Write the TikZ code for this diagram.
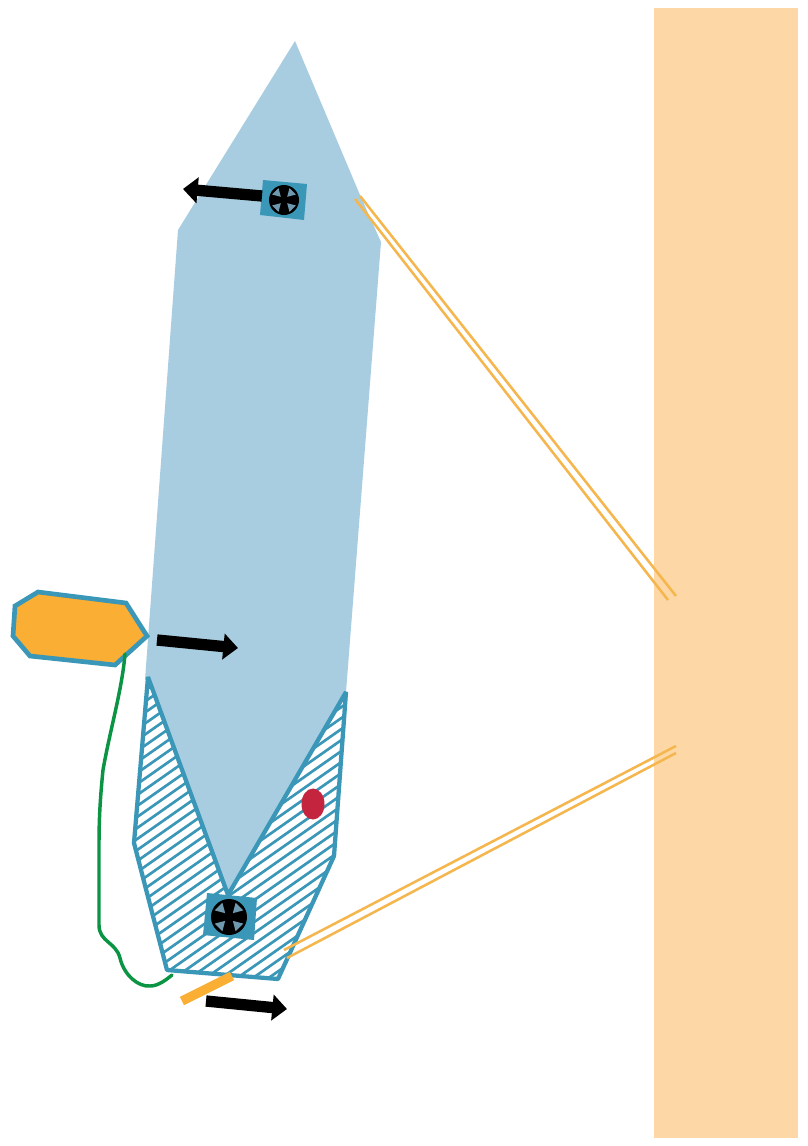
\documentclass[tikz,border=0pt]{standalone}
\usetikzlibrary{arrows.meta}
\definecolor{wallc}{HTML}{FDD8A6}
\definecolor{bodyc}{HTML}{A8CDE1}
\definecolor{tealc}{HTML}{3A97B8}
\definecolor{orangec}{HTML}{FBAE34}
\definecolor{ropec}{HTML}{F5B64E}
\definecolor{greenc}{HTML}{0A9444}
\definecolor{redc}{HTML}{C4243E}
\definecolor{bladec}{HTML}{6E99AE}
\tikzset{
  pushar/.style={line width=8.5pt,-{Triangle[length=11pt,width=19pt]},black},
  ropel/.style={draw=ropec,line width=1.9pt},
  fanbox/.style={fill=tealc,draw=none},
  hatchl/.style={draw=tealc,line width=2pt},
}
\newcommand{\fanat}[3]{% x,y,r
  \begin{scope}[shift={(#1,#2)}]
    \fill[black] (0,0) circle[radius=#3];
    \foreach \a in {45,135,225,315}{
      \fill[bladec,rotate=\a] (0.3*#3,0) -- (0.82*#3,-0.3*#3) -- (0.82*#3,0.3*#3) -- cycle;
    }
  \end{scope}}
\begin{document}
\begin{tikzpicture}[x=0.75pt,y=-0.75pt]
\useasboundingbox (0,0) rectangle (807,1146);
\fill[white] (0,0) rectangle (807,1146);
% wall
\fill[wallc] (654,8) rectangle (798,1138);
% body
\fill[bodyc] (295,41) -- (360,195) -- (381,242) -- (346,692) -- (228,895) -- (148,677) -- (145,680) -- (178,230) -- cycle;
% hatched stern
\fill[white] (148,677) -- (228,895) -- (346,692) -- (334,856) -- (278,979) -- (167,970) -- (134,843) -- cycle;
\begin{scope}
  \clip (148,677) -- (228,895) -- (346,692) -- (334,856) -- (278,979) -- (167,970) -- (134,843) -- cycle;
  \foreach \k in {0,...,42}{
    \draw[hatchl] (100,{700+11*\k}) -- (360,{700+11*\k-182});
  }
\end{scope}
\draw[tealc,line width=3.2pt,line join=bevel] (148,677) -- (228,895) -- (346,692) -- (334,856) -- (278,979) -- (167,970) -- (134,843) -- cycle;
% ropes
\draw[ropel] (355,199) -- (668,600);
\draw[ropel] (360,196) -- (676,596);
\draw[ropel] (284,950) -- (676,746);
\draw[ropel] (287,958) -- (676,753);
% red marker
\fill[redc] (313,804) ellipse[x radius=11.5,y radius=15.5];
% fans
\fill[fanbox] (263,180) -- (307,184) -- (304,220) -- (260,215) -- cycle;
\fanat{284}{200}{15}
\fill[fanbox] (207,893) -- (257,898) -- (254,940) -- (203,935) -- cycle;
\fanat{229}{917}{18}
% arrows
\draw[pushar] (262,196) -- (183,189);
\draw[pushar] (157,640) -- (238,648);
\draw[pushar] (206,1001) -- (287,1009);
% orange boat
\draw[tealc,fill=orangec,line width=3.5pt,line join=miter] (38,592) -- (126,603) -- (147,636) -- (115,665) -- (30,656) -- (13,636) -- (15,606) -- cycle;
% bar
\draw[orangec,line width=7pt] (182,1001) -- (232,976);
% green line
\draw[greenc,line width=2.6pt,line cap=round] (125,654) .. controls (122,690) and (110,730) .. (103,770)
  .. controls (100,800) and (99,820) .. (99,845) -- (99,925)
  .. controls (99,942) and (116,942) .. (120,958)
  .. controls (124,975) and (138,987) .. (150,986)
  .. controls (158,986) and (166,980) .. (172,975);
\end{tikzpicture}
\end{document}
